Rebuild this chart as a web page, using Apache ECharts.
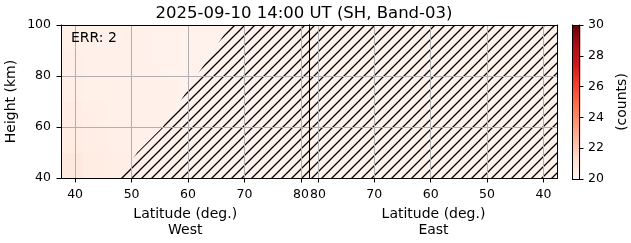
<!DOCTYPE html>
<html><head><meta charset="utf-8">
<script src="https://cdn.jsdelivr.net/npm/echarts@6/dist/echarts.min.js"></script>
<style>html,body{margin:0;padding:0;background:#fff}#c{width:631px;height:243px}</style>
</head><body><div id="c"></div>
<script>
const titleText = '2025-09-10 14:00 UT (SH, Band-03)';
const errText = 'ERR: 2';
const xNameWest = 'Latitude (deg.)\nWest';
const xNameEast = 'Latitude (deg.)\nEast';
const yName = 'Height (km)';
const cbName = '(counts)';
const latTicks = [40, 50, 60, 70, 80];
const heightTicks = [40, 60, 80, 100];
const cbTicks = [20, 22, 24, 26, 28, 30];
const latMin = 37.5, latMax = 81.5;
const latEdges = [37.5, 41.5, 45.5, 49.5, 53.5, 57.5, 61.5, 65.5, 69.5, 73.5, 77.5, 81.5];
const heightEdges = [40, 50, 60, 70, 80, 90, 100];
// rows: height bins bottom->top, columns: latitude bins low->high
const westCounts = [
  [20.7, 20.5, 20.4, 20.33, 20.28, 20.25, 20.23, 20.22, 20.22, 20.22, 20.22],
  [20.55, 20.42, 20.34, 20.29, 20.26, 20.24, 20.22, 20.22, 20.22, 20.22, 20.22],
  [20.45, 20.36, 20.3, 20.27, 20.24, 20.22, 20.22, 20.22, 20.22, 20.22, 20.22],
  [20.38, 20.32, 20.28, 20.25, 20.23, 20.22, 20.22, 20.22, 20.22, 20.22, 20.22],
  [20.34, 20.3, 20.26, 20.24, 20.22, 20.22, 20.22, 20.22, 20.22, 20.22, 20.22],
  [20.32, 20.28, 20.25, 20.23, 20.22, 20.22, 20.22, 20.22, 20.22, 20.22, 20.22]
];
const eastCounts = [
  [20.2, 20.2, 20.2, 20.2, 20.2, 20.2, 20.2, 20.2, 20.2, 20.2, 20.2],
  [20.2, 20.2, 20.2, 20.2, 20.2, 20.2, 20.2, 20.2, 20.2, 20.2, 20.2],
  [20.2, 20.2, 20.2, 20.2, 20.2, 20.2, 20.2, 20.2, 20.2, 20.2, 20.2],
  [20.2, 20.2, 20.2, 20.2, 20.2, 20.2, 20.2, 20.2, 20.2, 20.2, 20.2],
  [20.2, 20.2, 20.2, 20.2, 20.2, 20.2, 20.2, 20.2, 20.2, 20.2, 20.2],
  [20.2, 20.2, 20.2, 20.2, 20.2, 20.2, 20.2, 20.2, 20.2, 20.2, 20.2]
];
const hatchHeights = [40, 50, 60, 70, 80, 90, 100];
const hatchWestLat = [47.9, 51.0, 55.5, 58.6, 61.5, 64.5, 67.5];
const hatchEastLat = [latMin, latMax];
const redsColors = ['#fff5f0','#fee0d2','#fcbba1','#fc9272','#fb6a4a','#ef3b2c','#cb181d','#a50f15','#67000d'];

const FONT = 'DejaVu Sans';
const FS = 12.5;
const FN = 14;

function cells(values) {
  const out = [];
  for (let r = 0; r < values.length; r++)
    for (let c = 0; c < values[r].length; c++)
      out.push([latEdges[c], latEdges[c + 1], heightEdges[r], heightEdges[r + 1], values[r][c]]);
  return out;
}
function cellRender(params, api) {
  const p0 = api.coord([api.value(0), api.value(2)]);
  const p1 = api.coord([api.value(1), api.value(3)]);
  const x = Math.min(p0[0], p1[0]), y = Math.min(p0[1], p1[1]);
  return { type: 'rect', shape: { x: x - 0.5, y: y - 0.5, width: Math.abs(p1[0] - p0[0]) + 1, height: Math.abs(p1[1] - p0[1]) + 1 },
           style: { fill: api.visual('color') } };
}
// hatch pattern
const pc = document.createElement('canvas');
pc.width = 10; pc.height = 10;
const g = pc.getContext('2d');
g.strokeStyle = '#000'; g.lineWidth = 1.3;
g.beginPath();
g.moveTo(-2, 12); g.lineTo(12, -2);
g.moveTo(-2, 2); g.lineTo(2, -2);
g.moveTo(8, 12); g.lineTo(12, 8);
g.stroke();
const hatchFill = { image: pc, repeat: 'repeat' };

function westHatch(params, api) {
  if (params.dataIndex !== 0) return null;
  const pts = hatchHeights.map((h, i) => api.coord([hatchWestLat[i], h]));
  pts.push(api.coord([latMax, hatchHeights[hatchHeights.length - 1]]));
  pts.push(api.coord([latMax, hatchHeights[0]]));
  return { type: 'polygon', shape: { points: pts }, style: { fill: hatchFill, stroke: null } };
}
function eastHatch(params, api) {
  if (params.dataIndex !== 0) return null;
  const h0 = hatchHeights[0], h1 = hatchHeights[hatchHeights.length - 1];
  const pts = [api.coord([hatchEastLat[0], h0]), api.coord([hatchEastLat[0], h1]),
               api.coord([hatchEastLat[1], h1]), api.coord([hatchEastLat[1], h0])];
  return { type: 'polygon', shape: { points: pts }, style: { fill: hatchFill, stroke: null } };
}

const lineBlack = { show: true, onZero: false, lineStyle: { color: '#000', width: 1 } };
const splitGray = { show: true, lineStyle: { color: '#b0b0b0', width: 1 } };
const lbl = { color: '#000', fontFamily: FONT, fontSize: FS };
const nameStyle = { color: '#000', fontFamily: FONT, fontSize: FN, lineHeight: 16 };

function frameX(gi, pos) {
  return { gridIndex: gi, type: 'value', position: pos, min: 0, max: 1, z: 6,
           axisLine: lineBlack, axisTick: { show: false }, axisLabel: { show: false }, splitLine: { show: false } };
}
function frameY(gi, pos) {
  return { gridIndex: gi, type: 'value', position: pos, min: 0, max: 1, z: 6,
           axisLine: lineBlack, axisTick: { show: false }, axisLabel: { show: false }, splitLine: { show: false } };
}
function latAxis(gi, inverse, name) {
  return { gridIndex: gi, type: 'value', position: 'bottom', min: latMin, max: latMax, inverse: inverse, z: 5,
           axisLine: lineBlack,
           axisTick: { show: true, customValues: latTicks, length: 4.5, lineStyle: { color: '#000' } },
           axisLabel: Object.assign({ customValues: latTicks, margin: 10 }, lbl),
           splitLine: splitGray,
           name: name, nameLocation: 'middle', nameGap: 28,
           nameTextStyle: nameStyle };
}

const chart = echarts.init(document.getElementById('c'), null, { renderer: 'canvas' });
chart.setOption({
  animation: false,
  backgroundColor: '#fff',
  title: { text: titleText, left: 299, textAlign: 'center', top: 0,
           textStyle: { color: '#000', fontFamily: FONT, fontSize: 16.5, fontWeight: 'normal' } },
  graphic: [{ type: 'text', left: 71, top: 31, z: 20,
              style: { text: errText, fill: '#000', font: FN + 'px "' + FONT + '"' } }],
  grid: [
    { left: 61, top: 25, width: 248.5, height: 154 },
    { left: 309.5, top: 25, width: 248, height: 154 },
    { left: 572.5, top: 25, width: 8, height: 154 }
  ],
  xAxis: [
    latAxis(0, false, xNameWest),
    frameX(0, 'top'),
    latAxis(1, true, xNameEast),
    frameX(1, 'top'),
    frameX(2, 'bottom'),
    frameX(2, 'top')
  ],
  yAxis: [
    { gridIndex: 0, type: 'value', position: 'left', min: 40, max: 100, interval: 20, z: 5,
      axisLine: lineBlack, axisTick: { show: true, length: 4.5, lineStyle: { color: '#000' } },
      axisLabel: Object.assign({ margin: 10 }, lbl), splitLine: splitGray,
      name: yName, nameLocation: 'middle', nameGap: 42, nameRotate: 90,
      nameTextStyle: nameStyle },
    frameY(0, 'right'),
    { gridIndex: 1, type: 'value', position: 'left', min: 40, max: 100, interval: 20, z: 5,
      axisLine: lineBlack, axisTick: { show: false }, axisLabel: { show: false }, splitLine: splitGray },
    frameY(1, 'right'),
    { gridIndex: 2, type: 'value', position: 'right', min: 20, max: 30, interval: 2, z: 6,
      axisLine: lineBlack, axisTick: { show: true, length: 4.5, lineStyle: { color: '#000' } },
      axisLabel: Object.assign({ margin: 9 }, lbl), splitLine: { show: false },
      name: cbName, nameLocation: 'middle', nameGap: 35, nameRotate: 90,
      nameTextStyle: nameStyle },
    frameY(2, 'left')
  ],
  visualMap: {
    type: 'continuous', min: 20, max: 30, dimension: 4, seriesIndex: [0, 1],
    orient: 'vertical', left: 572.5, top: 25, itemWidth: 8, itemHeight: 154, padding: 0,
    calculable: false, hoverLink: false, text: null, inRange: { color: redsColors }
  },
  series: [
    { type: 'custom', xAxisIndex: 0, yAxisIndex: 0, clip: true, silent: true, z: 1,
      encode: { x: [0, 1], y: [2, 3] }, renderItem: cellRender, data: cells(westCounts) },
    { type: 'custom', xAxisIndex: 2, yAxisIndex: 2, clip: true, silent: true, z: 1,
      encode: { x: [0, 1], y: [2, 3] }, renderItem: cellRender, data: cells(eastCounts) },
    { type: 'custom', xAxisIndex: 0, yAxisIndex: 0, clip: true, silent: true, z: 2,
      renderItem: westHatch, data: [[hatchWestLat[0], hatchHeights[0]]] },
    { type: 'custom', xAxisIndex: 2, yAxisIndex: 2, clip: true, silent: true, z: 2,
      renderItem: eastHatch, data: [[hatchEastLat[0], hatchHeights[0]]] }
  ]
});
</script></body></html>
